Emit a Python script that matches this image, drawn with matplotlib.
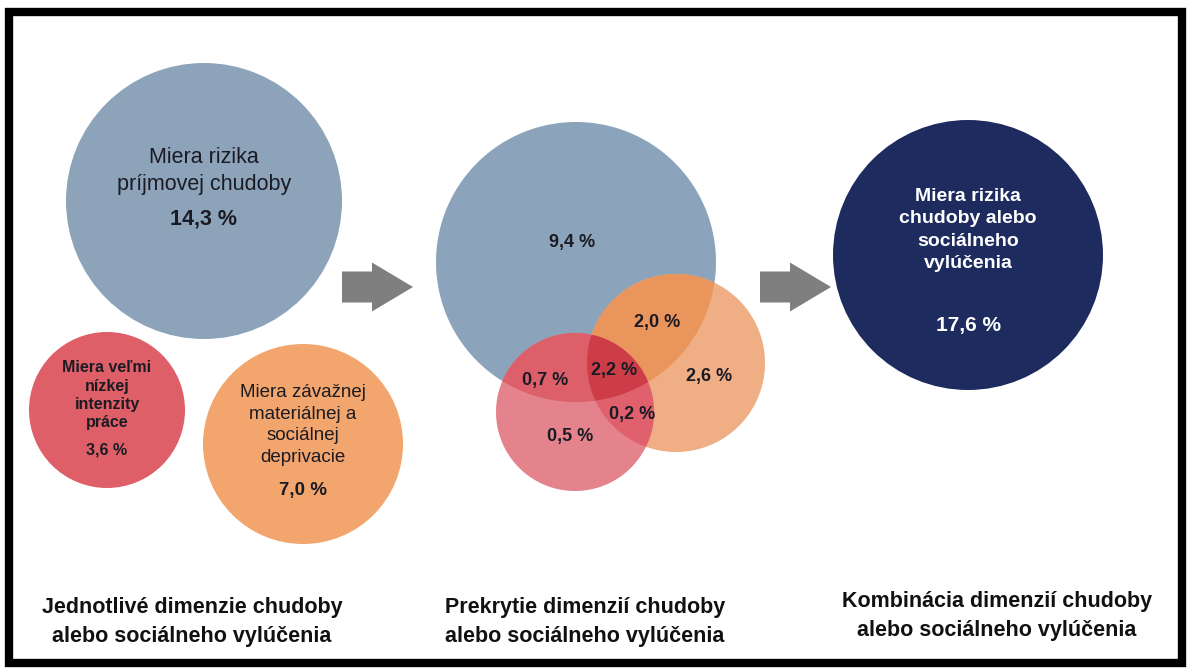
import numpy as np
import matplotlib
matplotlib.use("Agg")
import matplotlib.pyplot as plt
from matplotlib.patches import Circle, Polygon, Rectangle, FancyArrow

plt.rcParams['font.family'] = ['Liberation Sans', 'DejaVu Sans']

# ---------- Data ----------
single_labels = ["Miera rizika\npríjmovej chudoby",
                 "Miera veľmi\nnízkej\nintenzity\npráce",
                 "Miera závažnej\nmateriálnej a\nsociálnej\ndeprivacie"]
single_values = [14.3, 3.6, 7.0]

overlap_regions = ["income_only", "income_deprivation", "all_three", "income_work",
                   "deprivation_only", "work_deprivation", "work_only"]
overlap_values = [9.4, 2.0, 2.2, 0.7, 2.6, 0.2, 0.5]

total_label = "Miera rizika\nchudoby alebo\nsociálneho\nvylúčenia"
total_value = 17.6

captions = ["Jednotlivé dimenzie chudoby\nalebo sociálneho vylúčenia",
            "Prekrytie dimenzií chudoby\nalebo sociálneho vylúčenia",
            "Kombinácia dimenzií chudoby\nalebo sociálneho vylúčenia"]


def pct(v):
    return f"{v:.1f}".replace(".", ",") + " %"


def circle_pts(cx, cy, r, n=240):
    t = np.linspace(0, 2 * np.pi, n, endpoint=False)
    return np.column_stack([cx + r * np.cos(t), cy + r * np.sin(t)])


def clip(subject, clipper):
    # Sutherland-Hodgman, clipper convex
    out = list(subject)
    m = len(clipper)
    for i in range(m):
        a, b = clipper[i], clipper[(i + 1) % m]
        inp, out = out, []
        if not inp:
            break
        def inside(p):
            return (b[0] - a[0]) * (p[1] - a[1]) - (b[1] - a[1]) * (p[0] - a[0]) >= 0
        def inter(p, q):
            d1 = p - q
            d2 = a - b
            den = d1[0] * d2[1] - d1[1] * d2[0]
            t = ((p[0] - a[0]) * d2[1] - (p[1] - a[1]) * d2[0]) / den
            return p - t * d1
        s = inp[-1]
        for e in inp:
            if inside(e):
                if not inside(s):
                    out.append(inter(s, e))
                out.append(e)
            elif inside(s):
                out.append(inter(s, e))
            s = e
    return np.array(out)


fig = plt.figure(figsize=(11.89, 6.69), dpi=100)
ax = fig.add_axes([0, 0, 1, 1])
ax.set_xlim(0, 1189)
ax.set_ylim(669, 0)
ax.axis('off')

dark = '#1b1b24'

# ---------- Left panel: single dimensions ----------
ax.add_patch(Circle((204, 201), 138, color='#8ca3ba', lw=0))
ax.add_patch(Circle((107, 410), 78, color='#de5f67', lw=0))
ax.add_patch(Circle((303, 444), 100, color='#f2a56c', lw=0))

ax.text(204, 171, single_labels[0], ha='center', va='center', fontsize=15.5,
        color=dark, linespacing=1.4)
ax.text(204, 219, pct(single_values[0]), ha='center', va='center', fontsize=15.5,
        color=dark, fontweight='bold')
ax.text(107, 395, single_labels[1], ha='center', va='center', fontsize=11.5,
        color=dark, fontweight='bold', linespacing=1.25)
ax.text(107, 450, pct(single_values[1]), ha='center', va='center', fontsize=11.5,
        color=dark, fontweight='bold')
ax.text(303, 425, single_labels[2], ha='center', va='center', fontsize=13.5,
        color=dark, linespacing=1.35)
ax.text(303, 490, pct(single_values[2]), ha='center', va='center', fontsize=13.5,
        color=dark, fontweight='bold')

# ---------- Arrows ----------
for x0 in (342, 760):
    ax.add_patch(FancyArrow(x0, 287, 71, 0, width=31, head_width=49, head_length=41,
                            length_includes_head=True, color='#7f7f7f', lw=0))

# ---------- Middle panel: overlap ----------
blue = circle_pts(576, 262, 140)
orange = circle_pts(676, 363, 89)
red = circle_pts(575, 412, 79)

ax.add_patch(Polygon(blue, closed=True, color='#8ca4bb', lw=0))
ax.add_patch(Polygon(orange, closed=True, color='#f0ae85', lw=0))
ax.add_patch(Polygon(clip(orange, blue), closed=True, color='#ea955c', lw=0))
ax.add_patch(Polygon(red, closed=True, color='#e4838c', lw=0))
ax.add_patch(Polygon(clip(red, blue), closed=True, color='#dc5f69', lw=0))
ax.add_patch(Polygon(clip(red, orange), closed=True, color='#e0606e', lw=0))
ax.add_patch(Polygon(clip(clip(red, blue), orange), closed=True, color='#cd3d47', lw=0))

label_pos = {"income_only": (572, 243), "income_deprivation": (657, 322),
             "all_three": (614, 370), "income_work": (545, 381),
             "deprivation_only": (709, 377), "work_deprivation": (632, 415),
             "work_only": (570, 437)}
for region, v in zip(overlap_regions, overlap_values):
    x, y = label_pos[region]
    ax.text(x, y, pct(v), ha='center', va='center', fontsize=13,
            color=dark, fontweight='bold')

# ---------- Right panel: combination ----------
ax.add_patch(Circle((968, 255), 135, color='#1e2b5f', lw=0))
ax.text(968, 230, total_label, ha='center', va='center', fontsize=14,
        color='white', fontweight='bold', linespacing=1.4)
ax.text(968, 325, pct(total_value), ha='center', va='center', fontsize=15,
        color='white', fontweight='bold')

# ---------- Captions ----------
for x, y, c in zip((192, 585, 997), (622, 622, 616), captions):
    ax.text(x, y, c, ha='center', va='center', fontsize=15.5, color='#111111',
            fontweight='bold', linespacing=1.5)

# ---------- Frame ----------
ax.add_patch(Rectangle((9, 12), 1173, 651, fill=False, ec='black', lw=6))

fig.savefig('out.png', dpi=100)
